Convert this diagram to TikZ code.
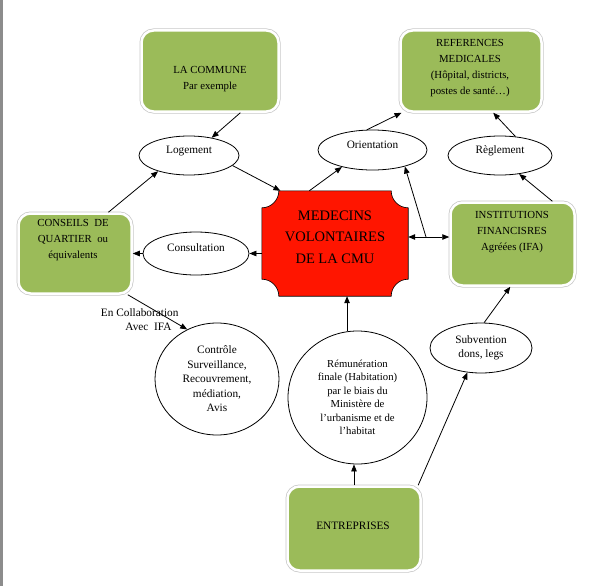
\documentclass[tikz,border=0pt]{standalone}
\usepackage{fontspec}
\setmainfont{Liberation Serif}
\usetikzlibrary{arrows.meta,shapes.geometric,positioning}
\definecolor{boxgreen}{HTML}{9BBB59}
\definecolor{plaquered}{HTML}{FF1500}

\begin{document}
\begin{tikzpicture}[x=1pt,y=-1pt,
    greenbox/.style={draw=white,line width=2.5pt,fill=boxgreen,rounded corners=12pt,
        preaction={draw=black!22,line width=4pt}},
    boxtext/.style={align=center,font=\fontsize{10.8}{16}\selectfont},
    bubble/.style={ellipse,draw,line width=0.8pt,inner sep=0pt,align=center,
        font=\fontsize{11.3}{13.5}\selectfont},
    lifted/.style={text height=8pt,text depth=12pt},
    arr/.style={-{Triangle[length=7pt,width=5.5pt]},line width=0.8pt}]
    \useasboundingbox (0,0) rectangle (596,586);

    % draw the page edge
    \fill[black!45] (0,0) rectangle (2.5,586);

    % draw the green boxes
    \node[greenbox,minimum width=137pt,minimum height=81pt] (commune) at (210,71) {};
    \node[boxtext] (communetxt) at (210,79) {LA COMMUNE\\Par exemple};
    \node[greenbox,minimum width=141pt,minimum height=81pt] (refs) at (471,71) {};
    \node[boxtext] (refstxt) at (470,68) {REFERENCES\\MEDICALES\\(Hôpital, districts,\\postes de santé…)};
    \node[greenbox,minimum width=113pt,minimum height=80pt] (conseils) at (75,253.5) {};
    \node[boxtext] (conseilstxt) at (73,240) {CONSEILS\ \ DE\\QUARTIER\ \ ou\\équivalents};
    \node[greenbox,minimum width=124pt,minimum height=83pt] (ifa) at (512.5,244) {};
    \node[boxtext] (ifatxt) at (512,232) {INSTITUTIONS\\FINANCISRES\\Agréées (IFA)};
    \node[greenbox,minimum width=133pt,minimum height=84pt] (entr) at (354,528.5) {};
    \node[boxtext,font=\fontsize{11.3}{16}\selectfont] (entrtxt) at (353,526) {ENTREPRISES};

    % draw the red plaque
    \node[minimum width=146pt,minimum height=105pt,inner sep=0pt] (med) at (335,243.5) {};
    \draw[fill=plaquered,line width=0.6pt] ([xshift=17pt]med.north west) -- ([xshift=-17pt]med.north east)
        arc(180:90:17) -- ([yshift=17pt]med.south east)
        arc(270:180:17) -- ([xshift=17pt]med.south west)
        arc(0:-90:17) -- ([yshift=-17pt]med.north west)
        arc(90:0:17) -- cycle;
    \node[align=center,font=\fontsize{14.5}{21.5}\selectfont] (medtxt) at (335,237) {MEDECINS\\VOLONTAIRES\\DE LA CMU};

    % draw the ellipses
    \node[bubble,lifted,minimum width=100pt,minimum height=39pt] (logement) at (189,155.5) {Logement};
    \node[bubble,lifted,minimum width=106pt,minimum height=43pt] (consult) at (196,253.5) {Consultation};
    \node[bubble,lifted,minimum width=109pt,minimum height=40pt] (orient) at (372.5,150) {Orientation};
    \node[bubble,lifted,minimum width=104pt,minimum height=39pt] (regl) at (500,155.5) {Règlement};
    \node[bubble,minimum width=102pt,minimum height=50pt] (subv) at (481,348) {Subvention\\dons, legs};
    \node[bubble,font=\fontsize{11.3}{14.5}\selectfont,minimum width=124pt,minimum height=112pt] (ctrl) at (217,379)
        {Contrôle\\Surveillance,\\Recouvrement,\\médiation,\\Avis};
    \node[bubble,font=\fontsize{10.7}{13.5}\selectfont,minimum width=139pt,minimum height=133pt] (remu) at (357.5,397.5)
        {Rémunération\\finale (Habitation)\\par le biais du\\Ministère de\\l’urbanisme et de\\l’habitat};

    % draw the arrows
    \draw[arr] (commune.-54.5) -- (logement.38);
    \draw[arr] (logement.-13.7) -- (med.136.9);
    \draw[arr] (conseils.51.5) -- (logement.207);
    \draw[arr] (consult.east -| med.west) -- (consult.east);
    \draw[arr] (consult.west) -- (consult.west -| conseils.east);
    \draw[arr] (med.116) -- (orient.209);
    \draw[arr] (orient.105) -- (refs.211);
    \draw[arr] (regl.51) -- (refs.-62.4);
    \draw[arr] (ifa.47.4) -- (regl.-44.4);
    \coordinate (jct) at (426,237);
    \draw[arr] (jct) -- (jct -| ifa.west);
    \draw[arr] (jct) -- (jct -| med.east);
    \draw[arr] (jct) -- (orient.-27);
    \draw[arr] (remu.99) -- (remu.99 |- med.south);
    \draw[arr] (entr.north) -- (entr.north |- remu.south);
    \draw[arr] (entr.34.6) -- (subv.241.8);
    \draw[arr] (subv.83) -- (ifa.267);
    \draw[arr] (conseils.-38.6) -- (ctrl.121.5);

    % label the collaboration
    \node[anchor=east,align=right,font=\fontsize{11.3}{14}\selectfont] (collab) at (182,320)
        {En Collaboration\\Avec\ \ IFA\hspace*{7pt}};
\end{tikzpicture}
\end{document}
